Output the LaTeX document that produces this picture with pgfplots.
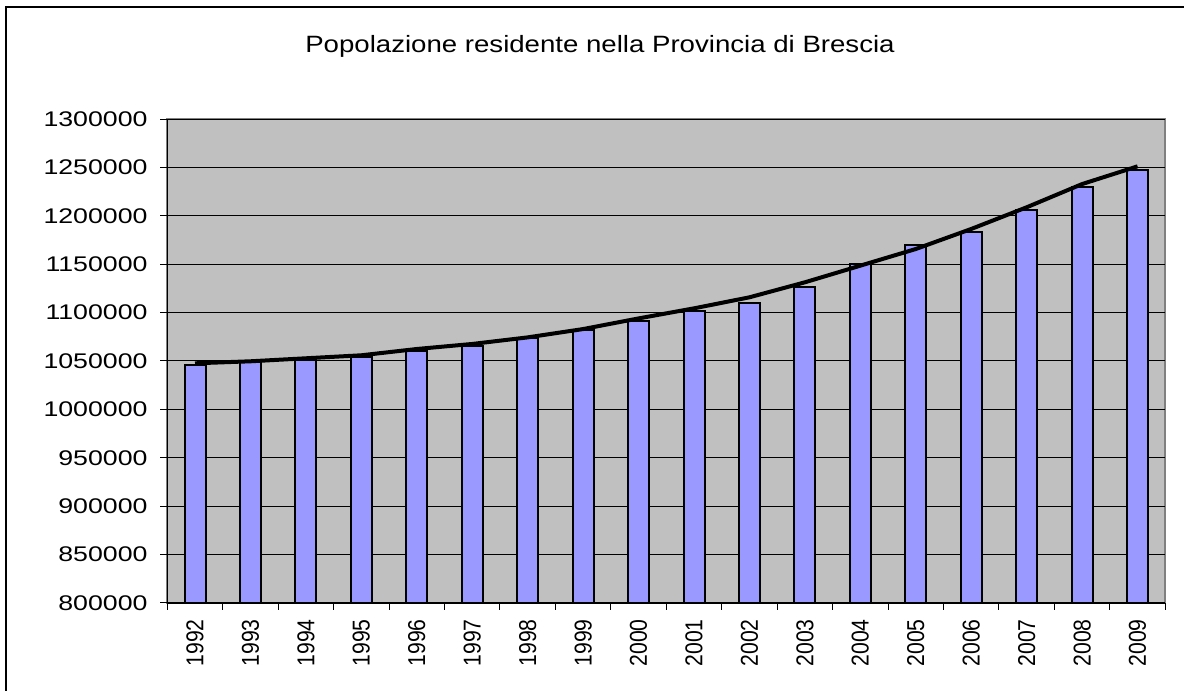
\documentclass[border=0pt]{standalone}
\usepackage{fontspec}
\setmainfont{Liberation Sans}
\usepackage{graphicx}
\usepackage{pgfplots}
\pgfplotsset{compat=1.18}
\definecolor{plotbg}{HTML}{C0C0C0}
\definecolor{barfill}{HTML}{9999FF}
\begin{document}
\begin{tikzpicture}
\useasboundingbox (0,0) rectangle (592pt,345.5pt);
\fill[white] (0,0) rectangle (592pt,345.5pt);
\draw[line width=1pt] (2.85pt,-2pt) -- (2.85pt,341.85pt) -- (594pt,341.85pt);
\node[anchor=base, inner sep=0pt, font=\fontsize{11.8}{14}\selectfont] at (300pt,319.35pt)
  {\scalebox{1.17}[1]{Popolazione residente nella Provincia di Brescia}};
\begin{axis}[
  at={(83.65pt,44pt)}, anchor=south west, scale only axis,
  width=499pt, height=242pt,
  xmin=1991.5, xmax=2009.5, ymin=800000, ymax=1300000,
  axis lines*=left, axis line style={-, black, line width=0.75pt},
  axis background/.style={fill=plotbg, draw=gray, line width=1pt},
  scaled y ticks=false,
  ytick={800000,850000,900000,950000,1000000,1050000,1100000,1150000,1200000,1250000,1300000},
  xtick={1991.5,1992.5,...,2009.5},
  x tick label as interval,
  xticklabel={\scalebox{1}[1.15]{\the\numexpr1992+\ticknum\relax}},
  yticklabel={\scalebox{1.26}[1]{\the\numexpr800000+50000*\ticknum\relax}},
  tick label style={font=\fontsize{10.6}{12}\selectfont},
  xticklabel style={rotate=90, anchor=east, inner sep=0pt},
  xticklabel shift=4.5pt,
  yticklabel style={anchor=east, inner sep=0pt},
  yticklabel shift=6.2pt,
  tick align=outside,
  major tick length=3.5pt,
  tick style={black, line width=0.5pt},
  ymajorgrids=true,
  major grid style={black, line width=0.5pt},
]
\addplot[ybar, bar width=10.5pt, bar shift=0pt, fill=barfill, draw=black, line width=1pt]
  coordinates {
  (1992,1045900) (1993,1048650) (1994,1051350) (1995,1054450) (1996,1060000)
  (1997,1065800) (1998,1073400) (1999,1082000) (2000,1091650) (2001,1101300)
  (2002,1109900) (2003,1126800) (2004,1149900) (2005,1169800) (2006,1182900)
  (2007,1206300) (2008,1230100) (2009,1247300)
  };
\addplot[black, line width=2pt] coordinates {
  (1992,1047600) (1993,1049700) (1994,1052800) (1995,1055900) (1996,1062400)
  (1997,1067600) (1998,1074400) (1999,1083000) (2000,1094000) (2001,1104400)
  (2002,1115800) (2003,1131300) (2004,1148500) (2005,1165700) (2006,1186400)
  (2007,1208800) (2008,1232800) (2009,1251100)
  };
\end{axis}
\end{tikzpicture}
\end{document}
